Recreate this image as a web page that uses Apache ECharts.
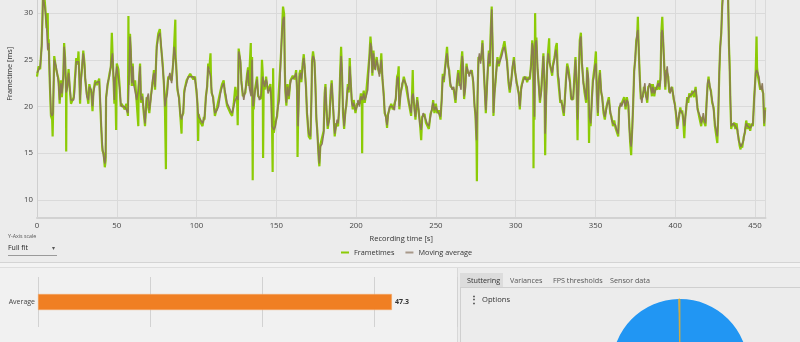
<!DOCTYPE html>
<html>
<head>
<meta charset="utf-8">
<script src="https://cdn.jsdelivr.net/npm/echarts@6/dist/echarts.min.js"></script>
<style>
  html, body { margin: 0; padding: 0; }
  body { width: 800px; height: 342px; overflow: hidden; background: #ececec; position: relative;
         font-family: 'Open Sans', 'Noto Sans', sans-serif; }
  #chart { position: absolute; left: 0; top: 0; width: 800px; height: 342px; z-index: 2; }
  .panel { position: absolute; z-index: 0; box-sizing: border-box; }
  .ui { position: absolute; z-index: 3; white-space: nowrap; color: #333; line-height: 1; }
</style>
</head>
<body>
<!-- panel chrome -->
<div class="panel" style="left:0;top:262px;width:800px;height:1px;background:#d4d4d4"></div>
<div class="panel" style="left:0;top:263px;width:800px;height:4px;background:#f3f3f3"></div>
<div class="panel" style="left:0;top:267px;width:800px;height:1px;background:#dedede"></div>
<div class="panel" style="left:0;top:268px;width:457px;height:74px;background:#f1f1f1"></div>
<div class="panel" style="left:457px;top:268px;width:1px;height:74px;background:#d8d8d8"></div>
<div class="panel" style="left:460px;top:287px;width:345px;height:60px;border:1px solid #cfcfcf;background:#ececec"></div>
<div class="panel" style="left:460px;top:273px;width:43px;height:14px;background:#dcdcdc"></div>

<!-- y-axis scale selector -->
<div class="ui" style="left:8px;top:234px;font-size:5.3px;color:#555">Y-Axis scale</div>
<div class="ui" style="left:8px;top:244px;font-size:7px;color:#222">Full fit</div>
<div class="ui" style="left:52px;top:244.5px;font-size:6px;color:#555">&#9662;</div>
<div class="panel" style="left:8px;top:255px;width:49px;height:1px;background:#9a9a9a;z-index:3"></div>

<!-- tabs -->
<div class="ui" style="left:467px;top:276.5px;font-size:7.2px;color:#333">Stuttering</div>
<div class="ui" style="left:510px;top:276.5px;font-size:7.2px;color:#555">Variances</div>
<div class="ui" style="left:553px;top:276.5px;font-size:7.2px;color:#555">FPS thresholds</div>
<div class="ui" style="left:610px;top:276.5px;font-size:7.2px;color:#555">Sensor data</div>
<div class="ui" style="left:469px;top:294px;font-size:10px;font-weight:bold;color:#333">&#8942;</div>
<div class="ui" style="left:482px;top:296px;font-size:7.6px;color:#333">Options</div>

<div id="chart"></div>
<script>
// Frame time recording, [time in s, frametime in ms]
const frametimes = [
[0,23.2],[1,24.3],[2,24.0],[3,26.8],[3.8,32.2],[4.6,31.8],[5.2,30.6],[6,28.4],[6.7,30.0],[7.0,26.0],[7.3,27.2],[8,22.6],[8.75,19.0],[9.5,18.6],[9.8,16.8],[10.1,19.5],[10.8,25.4],[12,24.0],[13.5,22.9],[14.2,20.3],[15,22.8],[15.6,21.0],[16.5,23.4],[17,26.8],[17.6,25.2],[18.2,21.6],[18.3,15.2],[18.5,21.6],[19,22.3],[19.8,24.0],[20.4,22.2],[21.3,20.3],[23,21.0],[23.5,21.0],[24.6,25.2],[25.5,24.5],[26,25.9],[26.5,23.2],[27,20.3],[27.5,22.8],[28.3,24.2],[29,26.0],[29.8,24.6],[30.2,22.9],[31.2,21.4],[32.2,20.3],[32.8,22.4],[34,21.5],[34.8,19.5],[35.4,21.7],[36.5,22.8],[37.5,22.3],[39,23.0],[39.6,20.4],[40.4,17.2],[41,15.3],[41.8,14.9],[42.5,13.5],[43,14.2],[43.3,21.0],[44.2,22.2],[45.4,23.5],[46.3,24.2],[46.9,27.9],[47.3,25.9],[48,22.7],[48.5,20.3],[49,23.2],[49.6,17.5],[50,24.6],[51,24.0],[51.7,22.4],[52.5,20.0],[53,20.3],[55,19.7],[56,20.3],[57,19.0],[57.3,29.7],[57.5,22.3],[58.3,27.8],[58.8,25.8],[59.4,22.2],[60,24.6],[60.5,22.2],[61.5,22.8],[62.5,20.4],[63.5,17.9],[63.7,22.1],[64.6,24.6],[65.2,20.4],[66,21.4],[66.7,19.7],[67.7,17.9],[68.7,21.0],[69.8,21.1],[70.4,19.3],[71.3,21.0],[72.5,22.6],[73.3,23.9],[74,21.8],[75,26.4],[76,27.8],[77,28.3],[77.7,26.5],[78.75,24.6],[79.6,22.2],[80.2,19.7],[80.8,13.3],[81.0,20.9],[81.7,21.1],[82.3,23.2],[83.3,23.3],[84.4,22.8],[85.4,24.7],[86,26.7],[86.7,29.3],[86.9,25.2],[87.2,24.6],[88,21.8],[89,21.0],[90,18.6],[90.6,17.1],[90.8,18.9],[91.7,19.3],[92.3,21.7],[93,21.8],[93.75,22.8],[94.8,22.9],[96,23.5],[98,22.9],[99,23.2],[100,21.5],[100.6,20.3],[101,16.3],[101.3,19.2],[102.5,18.3],[103.75,17.9],[104.6,18.9],[105,18.6],[105.8,21.0],[106.7,22.2],[107.3,24.6],[108,24.0],[108.75,25.7],[109,23.5],[109.4,21.5],[110.4,21.0],[111.5,19.0],
[112.8,19.9],[113.8,19.7],[115,21.7],[116,22.4],[117,22.8],[117.7,21.5],[118.5,21.4],[119.1,20.1],[120.2,20.3],[121.2,19.3],[122.3,19.0],[123.3,20.3],[124.3,22.1],[125.4,20.8],[125.8,18.0],[126,21.0],[126.4,26.2],[127.5,24.7],[128.1,22.8],[129,21.1],[129.6,21.0],[130.6,21.5],[131.7,23.5],[132.3,24.2],[132.7,22.2],[133.3,22.1],[134,26.8],[134.2,21.4],[134.8,25.3],[135.2,12.1],[135.4,20.3],[135.8,19.7],[136.5,21.7],[137.3,21.8],[137.9,23.2],[138.6,21.1],[139.4,21.0],[140.4,20.8],[141,25.0],[141.5,23.5],[141.7,14.5],[142.1,22.8],[142.7,21.8],[143.6,23.2],[144.2,22.2],[144.8,21.7],[145.7,21.5],[146.3,22.4],[146.9,20.4],[147.3,18.2],[147.7,13.0],[148,24.1],[148.4,17.2],[149.4,18.2],[150.5,19.0],[151.1,20.3],[151.9,20.4],[152.6,24.6],[153.2,26.5],[153.6,28.2],[154.2,30.7],[154.9,29.9],[155.3,24.0],[155.7,21.5],[156.3,20.1],[157,22.4],[157.8,20.8],[158.8,22.8],[159.4,22.6],[160.3,23.3],[161.5,22.9],[162.4,23.9],[163,21.8],[163.3,14.6],[163.6,18.2],[164.5,23.5],[165.1,23.9],[165.7,22.6],[166.5,24.6],[167.2,25.6],[167.8,24.0],[168.6,22.1],[169.2,19.3],[170.3,16.8],[171.4,16.5],[172,21.0],[172.4,24.9],[173,25.9],[173.9,24.7],[174.5,22.4],[175.1,18.6],[175.7,17.4],[176.6,14.3],[177,13.6],[177.6,15.9],[178.7,15.7],[179.7,17.4],[180.3,21.4],[180.8,22.4],[181.4,19.7],[182.2,17.6],[183.3,18.9],[184.1,21.7],[184.7,22.8],[185.4,20.4],[186,18.6],[186.6,16.8],[187.5,18.2],[188.1,18.3],[188.7,17.9],[189.4,19.9],[190,23.5],[190.6,26.4],[191.2,23.3],[191.8,19.3],[192.5,17.6],[193.3,19.6],[193.9,20.1],[194.8,22.4],[195.4,21.5],[196,25.2],[196.6,22.6],[197.3,20.7],[197.9,19.7],[198.5,20.7],[199.6,19.3],[200.6,20.3],[201.2,20.4],[202.1,20.3],[203,21.4],[203.6,20.4],[203.8,15.0],[204.0,20.9],[204.8,21.7],[205.4,20.4],[206.3,21.4],[207.3,21.5],[208.3,25.3],[209,27.5],[209.6,26.1],[210.2,23.3],[210.9,26.0],[211.5,24.0],[212.1,24.2],[212.9,25.3],[213.8,24.0],[214.6,23.5],[215.2,24.0],[215.8,25.7],[216.5,22.9],[217.3,21.4],[217.9,19.3],[218.8,18.9],[219.4,17.7],[220,19.2],[220.9,19.7],[222,20.3],[223,19.7],[224,19.9],[224.9,20.8],[225.7,23.2],[226.3,23.5],[226.7,24.3],[227.1,19.7],[227.8,21.4],[228.9,22.2],[229.9,23.2],
[231,22.4],[232,22.4],[233,20.4],[233.7,20.3],[234.5,19.0],[235.1,21.4],[235.5,23.9],[235.8,21.1],[236.6,19.9],[237.2,18.6],[238.3,21.0],[239.3,19.3],[239.9,18.5],[240.8,16.4],[241.4,18.9],[242,19.0],[242.9,19.2],[243.7,18.3],[244.5,18.5],[245.6,17.6],[246.6,19.2],[247.7,19.7],[248.3,20.7],[249.1,19.3],[250,20.3],[250.8,19.3],[251.8,19.6],[252.9,18.6],[253.7,21.0],[254.3,23.5],[255,22.6],[255.6,23.9],[256.4,25.3],[257,26.4],[257.7,24.3],[258.3,23.9],[259.1,22.2],[260.2,22.1],[261.2,21.8],[262.3,20.4],[263.3,22.8],[264,23.9],[264.8,22.2],[265.8,22.1],[266.5,25.9],[267.1,24.0],[267.7,20.8],[268.4,22.1],[269.2,24.6],[270,23.6],[270.9,23.5],[271.7,23.6],[272.5,23.9],[273.4,22.6],[274.2,20.3],[274.8,19.0],[275.5,16.1],[275.7,12.0],[276.1,21.0],[276.7,25.3],[277.3,25.4],[278,24.9],[278.6,25.4],[279.2,27.1],[280,24.0],[280.7,21.7],[281.3,19.3],[282,22.1],[282.6,24.0],[283.2,26.0],[283.8,24.3],[284.4,28.2],[285,30.7],[285.6,26.1],[286.1,19.0],[286.7,21.4],[287.4,22.6],[288,24.2],[288.6,25.3],[289.4,24.3],[290.5,25.3],[291.3,25.1],[292.2,26.4],[293,27.0],[293.8,25.9],[294.6,24.9],[295.5,22.6],[296.3,21.5],[297.2,22.8],[298,24.0],[298.9,25.3],[299.7,23.6],[300.5,22.8],[301.4,21.8],[302,21.4],[302.6,19.7],[303.5,22.1],[304.3,22.2],[305.1,23.2],[305.8,22.9],[306.4,23.2],[307.2,22.6],[308.1,23.2],[308.9,22.9],[309.7,24.6],[310.4,27.1],[311,25.8],[311.2,13.4],[311.4,21.7],[311.8,18.6],[312.2,30.0],[312.4,27.1],[313,27.4],[313.7,24.0],[314.5,22.4],[315.2,20.4],[316,21.7],[316.8,23.9],[317.4,25.7],[318.1,22.2],[318.5,14.8],[318.7,17.4],[319.1,21.0],[319.8,24.6],[320.4,26.0],[321,27.3],[321.3,24.7],[321.8,24.6],[322.9,23.3],[323.5,24.6],[324.4,25.3],[325.2,26.4],[325.8,26.8],[326.1,25.1],[326.4,23.3],[327.1,23.2],[328,20.4],[328.7,20.7],[329.5,19.7],[330.2,19.0],[330.9,21.0],[331.5,22.8],[332.3,24.6],[333.1,24.0],[334,22.8],[334.8,20.8],[335.4,21.0],[336.1,20.8],[336.9,23.5],[337.5,25.3],[338.2,22.2],[338.8,16.4],[339.0,18.9],[339.5,22.8],[340.2,27.1],[340.9,27.9],[341.5,24.7],[342.4,22.8],[343.2,21.5],
[344.2,20.4],[344.8,24.2],[345.5,22.9],[346,16.1],[346.3,19.2],[347,17.9],[347.6,20.3],[348.4,22.8],[349.1,22.9],[349.7,24.6],[350.3,25.9],[350.9,21.5],[351.5,19.0],[352.2,22.8],[352.8,23.9],[353.6,21.5],[354.3,21.0],[355.1,19.3],[355.9,18.6],[356.8,19.9],[357.6,20.1],[358.4,21.0],[359.3,19.3],[360.1,18.9],[361,17.9],[361.8,18.5],[362.6,17.7],[363.4,17.8],[364.3,16.8],[364.9,19.9],[365.7,20.1],[366.4,20.3],[367.2,20.1],[368,21.0],[368.9,19.7],[369.7,21.0],[370.6,20.1],[371.2,18.2],[371.8,16.1],[372.4,14.8],[372.6,15.9],[373.1,17.8],[373.7,20.4],[374.3,23.9],[375,25.1],[375.6,27.1],[376.2,27.6],[376.6,29.6],[377.2,25.8],[377.9,22.8],[378.5,20.8],[379.1,20.7],[379.8,21.1],[380.4,22.1],[381,22.2],[381.6,21.4],[382.5,20.4],[383.1,22.1],[383.9,22.2],[384.6,22.4],[385.4,21.1],[386,22.4],[386.9,21.1],[387.7,22.1],[388.5,21.8],[389.4,22.8],[390.2,21.8],[390.8,23.2],[391.4,28.2],[391.9,29.6],[392.5,26.8],[393.1,24.6],[393.8,21.8],[394.4,23.9],[395,24.0],[395.6,23.2],[396.3,21.5],[396.9,21.7],[397.5,21.8],[398.1,22.1],[399,20.8],[399.8,20.3],[400.6,19.0],[401.3,17.6],[401.9,18.5],[402.5,19.0],[403.2,19.9],[403.8,19.3],[404.4,19.6],[405,18.6],[405.7,16.6],[406.3,18.9],[406.9,19.7],[407.5,21.0],[408.2,20.4],[408.8,21.4],[409.7,21.0],[410.7,21.7],[411.8,21.0],[412.8,22.1],[413.4,20.8],[414,19.9],[414.9,19.0],[415.7,19.2],[416.3,17.9],[417,18.9],[417.6,19.0],[418.2,18.9],[419,17.9],[419.6,20.3],[420.3,22.2],[420.9,23.2],[421.5,22.2],[422.4,21.7],[423.2,20.4],[424.1,19.9],[424.9,17.9],[425.7,17.8],[426.4,16.1],[427,19.2],[427.6,23.3],[428.2,26.4],[428.9,27.9],[429.5,31.0],[430.2,32.9],[431.2,33.9],[432.3,33.4],[433.1,32.4],[433.7,26.5],[434.1,24.6],[434.6,20.4],[435.1,17.6],[435.8,18.2],[436.4,17.9],[437,18.3],[437.7,17.6],[438.5,18.2],[439.1,17.2],[439.7,16.7],[440.4,15.8],[441,15.4],[441.2,16.0],[442,15.6],[442.9,16.7],[443.7,17.2],[444.5,18.5],[445.4,17.6],[446.2,18.2],[447,17.4],[447.9,18.2],[448.7,17.9],[449.5,21.0],[450.4,23.3],[451,27.5],[451.3,24.2],[451.8,23.3],[452.5,23.5],[453.3,21.8],[453.9,22.1],[454.6,22.2],[455.2,21.4],[455.8,17.9],[456.4,19.9]
];

// Moving average of the frame times, [time in s, ms]
const movingAverage = [
[0,23.6],[1,23.9],[2,24.3],[3,26.5],[3.8,31.8],[4.6,31.6],[5.2,30.2],[6,28.6],[6.7,26.1],[7.3,26.8],[8,23],[8.75,19.3],[9.5,19.0],[10,19.3],[10.8,25.0],[12,24.3],[13.5,22.5],[14.2,20.7],[15,22.5],[15.6,21.4],[16.5,23],[17,26.4],[17.6,25],[18.3,21.5],[19,22],[19.8,23.6],[20.4,22.5],[21.3,20.7],[23,20.7],[23.5,21.4],[24.6,24.8],[26,24.8],[26.5,23.6],[27,20.7],[27.5,22.5],[28.3,24.5],[29,25.7],[29.8,24.3],[30.2,23.2],[31.2,21.1],[32.2,20.7],[32.8,22.1],[34,21.8],[34.8,20],[35.4,21.4],[36.5,22.5],[37.5,22.7],[39,22.7],[39.6,20.7],[40.4,17.5],[41,15.7],[41.8,14.6],[42.5,13.9],[43,14.6],[43.3,20.7],[44.2,22.5],[45.4,23.2],[46.3,24.5],[47.3,25.7],[48,23],[48.5,20.7],[49,22.9],[50,24.3],[51,24.3],[51.7,22.1],[52.5,20.4],[53,20],[55,20],[56,20],[57,19.3],[57.5,22],[58.3,27.5],[58.8,26.1],[59.4,22.5],[60,24.3],[60.5,22.5],[61.5,22.5],[62.5,20.7],[63.5,21.8],[64.6,24.3],[65.2,20.7],[66,21.1],[66.7,20],[67.7,18.2],[68.7,20.7],[69.8,21.4],[70.4,19.6],[71.3,20.7],[72.5,22.9],[73.3,23.6],[74,22.1],[75,26.1],[76,27.5],[77,27.9],[77.7,26.8],[78.75,24.3],[79.6,22.5],[80.2,20],[80.8,20.7],[81.7,21.4],[82.3,22.9],[83.3,23.6],[84.4,22.5],[85.4,25],[86,26.4],[86.7,25.5],[87.2,24.3],[88,22.1],[89,20.7],[90,18.9],[90.6,18.6],[91.7,19.6],[92.3,21.4],[93,22.1],[93.75,22.5],[94.8,23.2],[96,23.2],[98,23.2],[99,22.9],[100,21.8],[100.6,20],[101.3,18.9],[102.5,18.6],[103.75,18.2],[104.6,18.6],[105,18.9],[105.8,20.7],[106.7,22.5],[107.3,24.3],[108,24.3],[108.75,23.2],[109.4,21.8],[110.4,20.7],[111.5,19.3],
[112.8,19.6],[113.8,20],[115,21.4],[116,22.1],[117,22.5],[117.7,21.8],[118.5,21.1],[119.1,20.4],[120.2,20],[121.2,19.6],[122.3,19.3],[123.3,20],[124.3,20.7],[125.4,21.1],[126,20.7],[126.4,25.9],[127.5,25],[128.1,22.5],[129,21.4],[129.6,20.7],[130.6,21.8],[131.7,23.2],[132.3,23.9],[132.7,22.5],[133.3,21.8],[134.2,21.1],[134.8,25],[135.4,20],[135.8,20],[136.5,21.4],[137.3,22.1],[137.9,22.9],[138.6,21.4],[139.4,20.7],[140.4,21.1],[141.5,23.2],[142.1,22.5],[142.7,22.1],[143.6,22.9],[144.2,22.5],[144.8,21.4],[145.7,21.8],[146.3,22.1],[146.9,20.7],[147.3,17.9],[148.4,17.5],[149.4,17.9],[150.5,19.3],[151.1,20],[151.9,20.7],[152.6,24.3],[153.2,26.8],[153.6,27.9],[154.2,29.3],[154.9,29.6],[155.3,24.3],[155.7,21.8],[156.3,20.4],[157,22.1],[157.8,21.1],[158.8,22.5],[159.4,22.9],[160.3,23],[161.5,23.2],[162.4,23.6],[163,22.1],[163.6,17.9],[164.5,23.2],[165.1,23.6],[165.7,22.9],[166.5,24.3],[167.2,25.2],[167.8,24.3],[168.6,21.8],[169.2,19.6],[170.3,17.1],[171.4,16.8],[172,20.7],[172.4,24.6],[173,25.4],[173.9,25],[174.5,22.1],[175.1,18.9],[175.7,17.1],[176.6,14.6],[177,13.9],[177.6,15.7],[178.7,16],[179.7,17.1],[180.3,21.1],[180.8,22.1],[181.4,20],[182.2,17.9],[183.3,18.6],[184.1,21.4],[184.7,22.5],[185.4,20.7],[186,18.9],[186.6,17.1],[187.5,17.9],[188.1,18.6],[188.7,18.2],[189.4,19.6],[190,23.2],[190.6,25.4],[191.2,23.6],[191.8,19.6],[192.5,17.9],[193.3,19.3],[193.9,20.4],[194.8,22.1],[195.4,21.8],[196,24.3],[196.6,22.9],[197.3,20.4],[197.9,20],[198.5,20.4],[199.6,19.6],[200.6,20],[201.2,20.7],[202.1,20],[203,21.1],[203.8,20.7],[204.8,21.4],[205.4,20.7],[206.3,21.1],[207.3,21.8],[208.3,25],[209,26.8],[209.6,26.4],[210.2,23.6],[210.9,25.7],[211.5,24.3],[212.1,23.9],[212.9,25],[213.8,24.3],[214.6,23.2],[215.2,24.3],[215.8,25],[216.5,23.2],[217.3,21.1],[217.9,19.6],[218.8,18.6],[219.4,18],[220,18.9],[220.9,20],[222,20],[223,20],[224,19.6],[224.9,21.1],[225.7,22.9],[226.3,23.2],[227.1,20],[227.8,21.1],[228.9,22.5],[229.9,22.9],
[231,22.7],[232,22.1],[233,20.7],[233.7,20],[234.5,19.3],[235.1,21.1],[235.8,21.4],[236.6,19.6],[237.2,18.9],[238.3,20.7],[239.3,19.6],[239.9,18.2],[240.8,17.5],[241.4,18.6],[242,19.3],[242.9,18.9],[243.7,18.6],[244.5,18.2],[245.6,17.9],[246.6,18.9],[247.7,20],[248.3,20.4],[249.1,19.6],[250,20],[250.8,19.6],[251.8,19.3],[252.9,18.9],[253.7,20.7],[254.3,23.2],[255,22.9],[255.6,23.6],[256.4,25],[257,25.7],[257.7,24.6],[258.3,23.6],[259.1,22.5],[260.2,21.8],[261.2,22.1],[262.3,20.7],[263.3,22.5],[264,23.6],[264.8,22.5],[265.8,21.8],[266.5,25.4],[267.1,24.3],[267.7,21.1],[268.4,21.8],[269.2,24.3],[270,23.9],[270.9,23.2],[271.7,23.9],[272.5,23.6],[273.4,22.9],[274.2,20],[274.8,19.3],[275.5,16.4],[276.1,20.7],[276.7,25],[277.3,25.7],[278,24.6],[278.6,25.7],[279.2,26.8],[280,24.3],[280.7,21.4],[281.3,19.6],[282,21.8],[282.6,24.3],[283.2,25.7],[283.8,24.6],[284.4,27.9],[285,30.4],[285.6,26.4],[286.1,19.3],[286.7,21.1],[287.4,22.9],[288,23.9],[288.6,25],[289.4,24.6],[290.5,25],[291.3,25.4],[292.2,26.1],[293,26.4],[293.8,26.2],[294.6,24.6],[295.5,22.9],[296.3,21.8],[297.2,22.5],[298,24.3],[298.9,25],[299.7,23.9],[300.5,22.5],[301.4,22.1],[302,21.1],[302.6,20],[303.5,21.8],[304.3,22.5],[305.1,22.9],[305.8,23.2],[306.4,22.9],[307.2,22.9],[308.1,22.9],[308.9,23.2],[309.7,24.3],[310.4,26.8],[311,26.1],[311.4,21.4],[311.8,18.9],[312.4,26.8],[313,27.1],[313.7,24.3],[314.5,22.1],[315.2,20.7],[316,21.4],[316.8,23.6],[317.4,25.4],[318.1,22.5],[318.5,17.1],[319.1,20.7],[319.8,24.3],[320.4,25.7],[321,25],[321.8,24.3],[322.9,23.6],[323.5,24.3],[324.4,25],[325.2,26.1],[325.8,25.4],[326.4,23.6],[327.1,22.9],[328,20.7],[328.7,20.4],[329.5,20],[330.2,19.3],[330.9,20.7],[331.5,22.5],[332.3,24.3],[333.1,24.3],[334,22.5],[334.8,21.1],[335.4,20.7],[336.1,21.1],[336.9,23.2],[337.5,25],[338.2,22.5],[338.8,18.6],[339.5,22.5],[340.2,26.8],[340.9,27.5],[341.5,25],[342.4,22.5],[343.2,21.8],
[344.2,20.7],[344.8,23.9],[345.5,23.2],[346.3,18.9],[347,18.2],[347.6,20],[348.4,22.5],[349.1,23.2],[349.7,24.3],[350.3,24.6],[350.9,21.8],[351.5,19.3],[352.2,22.5],[352.8,23.6],[353.6,21.8],[354.3,20.7],[355.1,19.6],[355.9,18.9],[356.8,19.6],[357.6,20.4],[358.4,20.7],[359.3,19.6],[360.1,18.6],[361,18.2],[361.8,18.2],[362.6,18],[363.4,17.5],[364.3,17.1],[364.9,19.6],[365.7,20.4],[366.4,20],[367.2,20.4],[368,20.7],[368.9,20],[369.7,20.7],[370.6,20.4],[371.2,17.9],[371.8,16.4],[372.4,15.7],[373.1,17.5],[373.7,20.7],[374.3,23.6],[375,25.4],[375.6,26.8],[376.2,27.9],[376.6,28.2],[377.2,26.1],[377.9,22.5],[378.5,21.1],[379.1,20.4],[379.8,21.4],[380.4,21.8],[381,22.5],[381.6,21.1],[382.5,20.7],[383.1,21.8],[383.9,22.5],[384.6,22.1],[385.4,21.4],[386,22.1],[386.9,21.4],[387.7,21.8],[388.5,22.1],[389.4,22.5],[390.2,22.1],[390.8,22.9],[391.4,27.9],[391.9,28.2],[392.5,27.1],[393.1,24.3],[393.8,22.1],[394.4,23.6],[395,24.3],[395.6,22.9],[396.3,21.8],[396.9,21.4],[397.5,22.1],[398.1,21.8],[399,21.1],[399.8,20],[400.6,19.3],[401.3,17.9],[401.9,18.2],[402.5,19.3],[403.2,19.6],[403.8,19.6],[404.4,19.3],[405,18.9],[405.7,17.9],[406.3,18.6],[406.9,20],[407.5,20.7],[408.2,20.7],[408.8,21.1],[409.7,21.3],[410.7,21.4],[411.8,21.3],[412.8,21.8],[413.4,21.1],[414,19.6],[414.9,19.3],[415.7,18.9],[416.3,18.2],[417,18.6],[417.6,19.3],[418.2,18.6],[419,18.2],[419.6,20],[420.3,22.5],[420.9,22.9],[421.5,22.5],[422.4,21.4],[423.2,20.7],[424.1,19.6],[424.9,18.2],[425.7,17.5],[426.4,16.8],[427,18.9],[427.6,23.6],[428.2,26.1],[428.9,28.2],[429.5,30.7],[430.2,32.5],[431.2,33.5],[432.3,33],[433.1,32],[433.7,26.8],[434.1,24.3],[434.6,20.7],[435.1,17.9],[435.8,17.9],[436.4,18.2],[437,18],[437.7,17.9],[438.5,17.9],[439.1,17.5],[439.7,16.4],[440.4,16.1],[441.2,15.7],[442,15.9],[442.9,16.4],[443.7,17.5],[444.5,18.2],[445.4,17.9],[446.2,17.9],[447,17.7],[447.9,17.9],[448.7,18.2],[449.5,20.7],[450.4,23.6],[451,23.9],[451.8,23.6],[452.5,23.2],[453.3,22.1],[453.9,21.8],[454.6,22.5],[455.2,21.1],[455.8,18.2],[456.4,19.6]
];

// Summary bar (FPS)
const barCategories = ['Average'];
const barValues = [47.3];

// Stuttering pie: share of recording time in percent
const pieNames = ['Smooth time', 'Stuttering time'];
const pieValues = [99.7, 0.3];

const FONT = "'Open Sans', 'Noto Sans', sans-serif";
const chart = echarts.init(document.getElementById('chart'), null, { renderer: 'canvas' });

chart.setOption({
  backgroundColor: 'transparent',
  animation: false,
  textStyle: { fontFamily: FONT },
  legend: {
    data: ['Frametimes', 'Moving average'],
    left: 336, top: 244,
    icon: 'rect', itemWidth: 8, itemHeight: 2, itemGap: 11,
    textStyle: { fontSize: 7.3, color: '#333', fontFamily: FONT }
  },
  grid: [
    // frametime plot; its upper part lies above the visible window
    { left: 37, right: 34.5, top: -70, bottom: 124.3, outerBoundsMode: 'none', containLabel: false },
    { left: 38, top: 277, width: 419, height: 50, outerBoundsMode: 'none', containLabel: false }
  ],
  xAxis: [
    {
      gridIndex: 0, type: 'value', min: 0, max: 456.6,
      interval: 50,
      name: 'Recording time [s]', nameLocation: 'middle', nameGap: 17,
      nameTextStyle: { fontSize: 7.5, color: '#333', fontFamily: FONT },
      axisLine: { show: true, onZero: false, lineStyle: { color: '#d2d2d2', width: 2 } },
      axisTick: { show: false },
      axisLabel: { fontSize: 7.8, color: '#444', margin: 4, showMaxLabel: false, fontFamily: FONT },
      splitLine: { show: true, lineStyle: { color: '#dadada', width: 1 } }
    },
    {
      gridIndex: 1, type: 'value', min: 0, max: 56, interval: 15,
      axisLine: { show: false }, axisTick: { show: false }, axisLabel: { show: false },
      splitLine: { show: true, lineStyle: { color: '#d2d2d2', width: 1 } }
    }
  ],
  yAxis: [
    {
      gridIndex: 0, type: 'value', min: 8.1, max: 38.9, splitNumber: 6,
      name: 'Frametime [ms]', nameLocation: 'middle', nameGap: 19, nameRotate: 90,
      nameTextStyle: { fontSize: 7.3, color: '#333', fontFamily: FONT },
      axisLine: { show: true, onZero: false, lineStyle: { color: '#cfcfcf', width: 1 } },
      axisTick: { show: false },
      axisLabel: { fontSize: 7.8, color: '#444', margin: 4, showMinLabel: false, showMaxLabel: false, fontFamily: FONT },
      splitLine: { show: true, lineStyle: { color: '#dadada', width: 1 } }
    },
    {
      gridIndex: 1, type: 'category', data: barCategories, inverse: true,
      axisLine: { show: false }, axisTick: { show: false },
      axisLabel: { fontSize: 7, color: '#444', margin: 3, fontFamily: FONT },
      splitLine: { show: false }
    }
  ],
  series: [
    {
      name: 'Frametimes', type: 'line', xAxisIndex: 0, yAxisIndex: 0,
      data: frametimes, showSymbol: false, symbol: 'none', smooth: false,
      lineStyle: { color: '#8ccb06', width: 2.2 }, itemStyle: { color: '#8ccb06' },
      clip: true, z: 2
    },
    {
      name: 'Moving average', type: 'line', xAxisIndex: 0, yAxisIndex: 0,
      data: movingAverage, showSymbol: false, symbol: 'none', smooth: false,
      lineStyle: { color: '#8a7656', width: 1.5, opacity: 0.95 }, itemStyle: { color: '#a8998a' },
      clip: true, z: 3
    },
    {
      type: 'bar', xAxisIndex: 1, yAxisIndex: 1, data: barValues, barWidth: 16,
      itemStyle: { color: '#f07f23', borderColor: '#f5a868', borderWidth: 0.5 },
      label: { show: true, position: 'right', distance: 3, fontSize: 7, fontWeight: 'bold', color: '#333', fontFamily: FONT },
      silent: true
    },
    {
      type: 'pie', center: [680, 367], radius: 68, startAngle: 90, clockwise: true,
      silent: true, label: { show: false }, labelLine: { show: false },
      data: pieNames.map((n, i) => ({
        name: n, value: pieValues[i],
        itemStyle: i === 0 ? { color: '#2196f3' } : { color: '#d2a93a', borderColor: '#d2a93a', borderWidth: 0.8 }
      }))
    }
  ]
});
</script>
</body>
</html>
